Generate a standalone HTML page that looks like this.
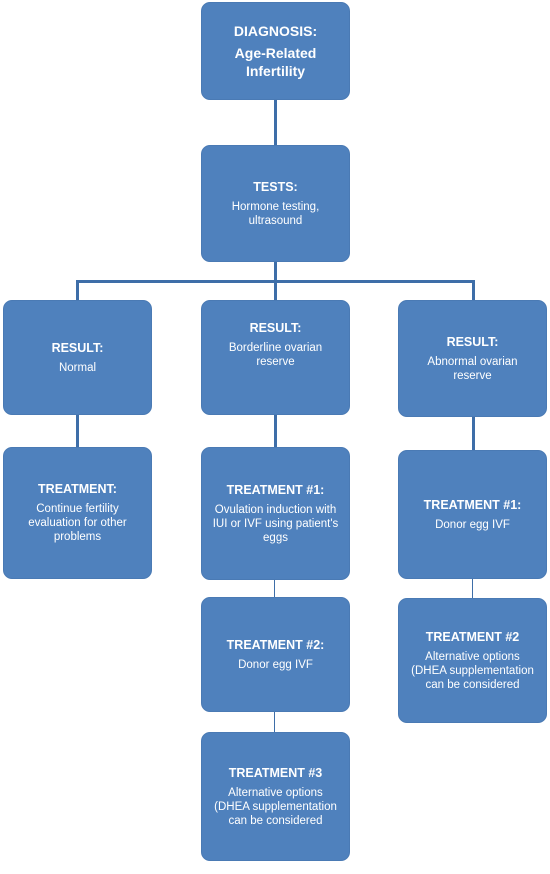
<!DOCTYPE html>
<html><head><style>
body{margin:0;width:550px;height:874px;background:#fff;position:relative;font-family:"Liberation Sans",sans-serif;overflow:hidden}
.b{position:absolute;background:#4f81bd;border:1px solid #4a7ab4;border-radius:9px;color:#fff;display:flex;flex-direction:column;justify-content:center;align-items:center;text-align:center;font-size:11.5px;line-height:14px;box-sizing:border-box;padding:0 8px}
.b b{font-size:12.5px;margin-bottom:6px}
.l{position:absolute;background:#3e6ea8}
</style></head><body>
<div class="l" style="left:274px;top:99px;width:3px;height:46px"></div>
<div class="l" style="left:274px;top:262px;width:3px;height:20px"></div>
<div class="l" style="left:76px;top:280px;width:399px;height:3px"></div>
<div class="l" style="left:76px;top:280px;width:3px;height:20px"></div>
<div class="l" style="left:274px;top:280px;width:3px;height:20px"></div>
<div class="l" style="left:472px;top:280px;width:3px;height:20px"></div>
<div class="l" style="left:76px;top:414px;width:3px;height:33px"></div>
<div class="l" style="left:274px;top:414px;width:3px;height:33px"></div>
<div class="l" style="left:472px;top:417px;width:3px;height:33px"></div>
<div class="l" style="left:274px;top:580px;width:1px;height:17px"></div>
<div class="l" style="left:274px;top:712px;width:1px;height:20px"></div>
<div class="l" style="left:472px;top:578px;width:1px;height:20px"></div>

<div class="b" style="left:201px;top:2px;width:149px;height:98px;font-size:14px;line-height:18px;font-weight:bold"><b style="font-size:14px;margin-bottom:4px">DIAGNOSIS:</b>Age-Related<br>Infertility</div>
<div class="b" style="left:201px;top:145px;width:149px;height:117px"><b>TESTS:</b>Hormone testing,<br>ultrasound</div>
<div class="b" style="left:3px;top:300px;width:149px;height:115px"><b>RESULT:</b>Normal</div>
<div class="b" style="left:201px;top:300px;width:149px;height:115px;justify-content:flex-start;padding-top:20px"><b>RESULT:</b>Borderline ovarian<br>reserve</div>
<div class="b" style="left:398px;top:300px;width:149px;height:117px"><b>RESULT:</b>Abnormal ovarian<br>reserve</div>
<div class="b" style="left:3px;top:447px;width:149px;height:132px"><b>TREATMENT:</b>Continue fertility<br>evaluation for other<br>problems</div>
<div class="b" style="left:201px;top:447px;width:149px;height:133px"><b>TREATMENT #1:</b>Ovulation induction with<br>IUI or IVF using patient's<br>eggs</div>
<div class="b" style="left:398px;top:450px;width:149px;height:129px"><b>TREATMENT #1:</b>Donor egg IVF</div>
<div class="b" style="left:201px;top:597px;width:149px;height:115px"><b>TREATMENT #2:</b>Donor egg IVF</div>
<div class="b" style="left:398px;top:598px;width:149px;height:125px"><b>TREATMENT #2</b>Alternative options<br>(DHEA supplementation<br>can be considered</div>
<div class="b" style="left:201px;top:732px;width:149px;height:129px"><b>TREATMENT #3</b>Alternative options<br>(DHEA supplementation<br>can be considered</div>
</body></html>
